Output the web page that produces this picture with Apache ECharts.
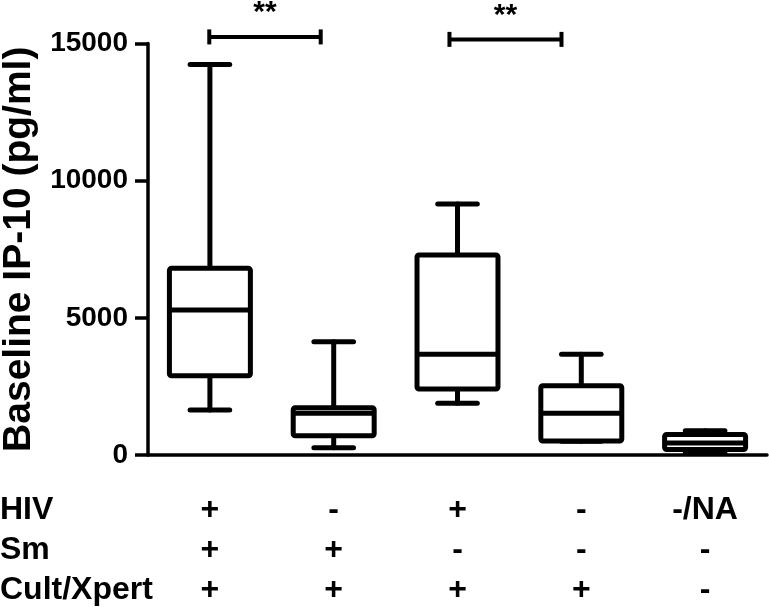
<!DOCTYPE html>
<html><head><meta charset="utf-8">
<script src="https://cdn.jsdelivr.net/npm/echarts@6/dist/echarts.min.js"></script>
<style>html,body{margin:0;padding:0;background:#fff}#c{width:769px;height:607px}</style>
</head><body><div id="c"></div>
<script>
// ---- data ----
const categories = ['G1', 'G2', 'G3', 'G4', 'G5'];
const rowNames = ['HIV', 'Sm', 'Cult/Xpert'];
const hivRow = ['+', '-', '+', '-', '-/NA'];
const smRow = ['+', '+', '-', '-', '-'];
const cultRow = ['+', '+', '+', '+', '-'];
const whiskerLow = [1640, 266, 1884, 500, 60];
const q1 = [2890, 703, 2405, 510, 200];
const median = [5284, 1520, 3669, 1520, 440];
const q3 = [6804, 1724, 7289, 2526, 750];
const whiskerHigh = [14238, 4129, 9147, 3669, 880];
const yTicks = [0, 5000, 10000, 15000];
const comparisons = [[0, 1], [2, 3]];
const comparisonY = [15240, 15150];
const comparisonLabels = ['**', '**'];

// ---- style constants ----
const FONT = '"Liberation Sans", Arial, sans-serif';
const bracketOffsets = [[-0.005, -0.105], [-0.065, -0.16]];
const LW = 5;

const boxData = categories.map((c, i) => [i, whiskerLow[i], q1[i], median[i], q3[i], whiskerHigh[i]]);
const bracketData = comparisons.map((c, k) => [c[0], c[1], comparisonY[k]]);

function renderBox(params, api) {
  const i = api.value(0);
  const x = api.coord([i, 0])[0];
  const band = api.size([1, 0])[0];
  const hw = band * 0.327;
  const cw = band * 0.16;
  const y = k => api.coord([i, api.value(k)])[1];
  const yLo = y(1), yQ1 = y(2), yMed = y(3), yQ3 = y(4), yHi = y(5);
  const st = { stroke: '#000', lineWidth: LW, fill: null, lineCap: 'round' };
  return {
    type: 'group', children: [
      { type: 'line', shape: { x1: x, y1: yHi, x2: x, y2: yQ3 }, style: st },
      { type: 'line', shape: { x1: x, y1: yQ1, x2: x, y2: yLo }, style: st },
      { type: 'line', shape: { x1: x - cw, y1: yHi, x2: x + cw, y2: yHi }, style: st },
      { type: 'line', shape: { x1: x - cw, y1: yLo, x2: x + cw, y2: yLo }, style: st },
      { type: 'rect', shape: { x: x - hw, y: yQ3, width: 2 * hw, height: yQ1 - yQ3, r: 2 },
        style: { stroke: '#000', fill: '#fff', lineWidth: LW, lineJoin: 'round' } },
      { type: 'line', shape: { x1: x - hw, y1: yMed, x2: x + hw, y2: yMed }, style: { stroke: '#000', lineWidth: LW } }
    ]
  };
}

function renderBracket(params, api) {
  const k = params.dataIndex;
  const band = api.size([1, 0])[0];
  const x1 = api.coord([api.value(0), 0])[0] + bracketOffsets[k][0] * band;
  const x2 = api.coord([api.value(1), 0])[0] + bracketOffsets[k][1] * band;
  const yb = api.coord([0, api.value(2)])[1];
  const st = { stroke: '#000', lineWidth: 4 };
  return {
    type: 'group', children: [
      { type: 'line', shape: { x1: x1, y1: yb, x2: x2, y2: yb }, style: st },
      { type: 'line', shape: { x1: x1, y1: yb - 7.5, x2: x1, y2: yb + 7.5 }, style: st },
      { type: 'line', shape: { x1: x2, y1: yb - 7.5, x2: x2, y2: yb + 7.5 }, style: st },
      { type: 'text', x: (x1 + x2) / 2, y: yb - 24,
        style: { text: comparisonLabels[k], fontSize: 30, fontWeight: 'bold', fontFamily: FONT,
                 fill: '#000', align: 'center', verticalAlign: 'middle' } }
    ]
  };
}

const chart = echarts.init(document.getElementById('c'), null, { renderer: 'canvas' });
chart.setOption({
  animation: false,
  backgroundColor: '#fff',
  textStyle: { fontFamily: FONT },
  grid: { left: 148, right: 2, top: 43.5, bottom: 152, containLabel: false, outerBoundsMode: 'none' },
  xAxis: {
    type: 'category',
    data: categories,
    boundaryGap: true,
    axisLine: { lineStyle: { color: '#000', width: 3.5 } },
    axisTick: { alignWithLabel: true, length: 12, lineStyle: { color: '#000', width: 3.5 } },
    axisLabel: {
      interval: 0,
      margin: 35,
      color: '#000',
      fontSize: 32,
      fontWeight: 'bold',
      fontFamily: FONT,
      lineHeight: 40,
      formatter: (v, idx) => hivRow[idx] + '\n' + smRow[idx] + '\n' + cultRow[idx]
    },
    splitLine: { show: false }
  },
  yAxis: {
    type: 'value',
    min: yTicks[0],
    max: yTicks[yTicks.length - 1],
    interval: yTicks[1] - yTicks[0],
    name: 'Baseline IP-10 (pg/ml)',
    nameLocation: 'middle',
    nameRotate: 90,
    nameGap: 108,
    nameTextStyle: { color: '#000', fontSize: 39, fontWeight: 'bold', fontFamily: FONT },
    axisLine: { show: true, lineStyle: { color: '#000', width: 3.5 } },
    axisTick: { show: true, length: 13, lineStyle: { color: '#000', width: 3.5 } },
    axisLabel: { margin: 20, color: '#000', fontSize: 28, fontWeight: 'bold', fontFamily: FONT,
                 formatter: v => String(v) },
    splitLine: { show: false }
  },
  graphic: rowNames.map((t, r) => ({
    type: 'text', left: 0, top: 510 + r * 40 - 20,
    style: { text: t, fontSize: 32, fontWeight: 'bold', fontFamily: FONT, fill: '#000',
             lineHeight: 40, verticalAlign: 'top' }
  })),
  series: [
    { type: 'custom', data: boxData, renderItem: renderBox, clip: false, encode: { x: 0, y: [1, 2, 3, 4, 5] }, z: 3 },
    { type: 'custom', data: bracketData, renderItem: renderBracket, clip: false, encode: { x: [0, 1], y: 2 }, z: 4 }
  ]
});
</script>
</body></html>
